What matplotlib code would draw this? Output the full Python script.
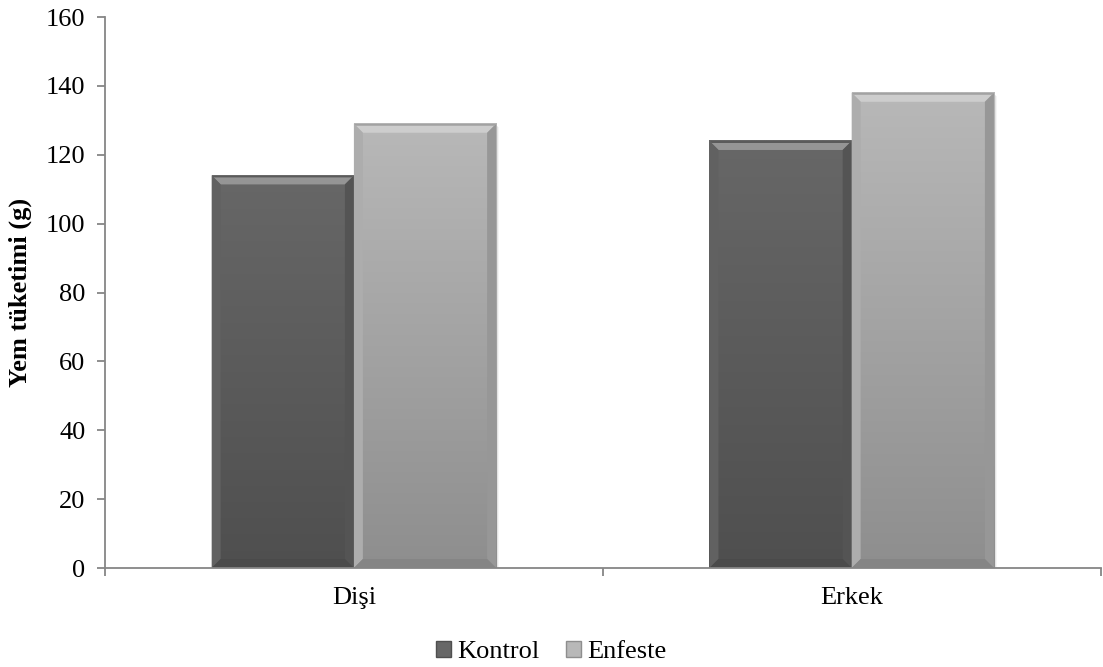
import numpy as np
import matplotlib.pyplot as plt
from matplotlib.patches import Polygon, Rectangle
from matplotlib.colors import LinearSegmentedColormap, to_rgb

# Yem tüketimi verileri
gruplar = ['Dişi', 'Erkek']
seriler = ['Kontrol', 'Enfeste']
kontrol = [114, 124]
enfeste = [129, 138]

plt.rcParams['font.family'] = ['Liberation Serif', 'DejaVu Serif']

fig = plt.figure(figsize=(11.03, 6.67), dpi=100)
ax = fig.add_axes([0.0952, 0.1484, 0.9026, 0.8261])

x = np.arange(len(gruplar))
w = 1 / 3.5  # Excel gap width 150%

renkler = {
    'Kontrol': ('#676767', '#4f4f4f'),
    'Enfeste': ('#b8b8b8', '#8e8e8e'),
}

bars_k = ax.bar(x - w / 2, kontrol, w, color=renkler['Kontrol'][0], zorder=2)
bars_e = ax.bar(x + w / 2, enfeste, w, color=renkler['Enfeste'][0], zorder=2)

ax.set_xlim(-0.5, 1.5)
ax.set_ylim(0, 160)

# piksel -> veri dönüşümü (bevel kalınlığı için)
px_x = 2.0 / (0.9026 * 1103)
px_y = 160.0 / (0.8261 * 667)


def shade(c, f):
    c = np.array(to_rgb(c))
    if f > 0:
        return tuple(c + (1 - c) * f)
    return tuple(c * (1 + f))


def bevel(bar, top, bottom):
    x0, y0 = bar.get_x(), bar.get_y()
    bw, bh = bar.get_width(), bar.get_height()
    x1, y1 = x0 + bw, y0 + bh
    # dikey gradyan gövde
    cmap = LinearSegmentedColormap.from_list('g', [bottom, top])
    grad = np.linspace(0, 1, 256).reshape(-1, 1)
    ax.imshow(grad, cmap=cmap, origin='lower', aspect='auto',
              extent=(x0, x1, y0, y1), zorder=2.1)
    bx, by = 9 * px_x, 9 * px_y
    # yumuşak gölge
    for i, a in enumerate([0.10, 0.07, 0.04]):
        ax.add_patch(Rectangle((x0 + (1 + i) * px_x, y0 - (1 + i) * px_y), bw, bh,
                               color='black', alpha=a, zorder=1.9, lw=0))
    # üst kenar
    ax.add_patch(Polygon([(x0, y1), (x1, y1), (x1 - bx, y1 - by), (x0 + bx, y1 - by)],
                         closed=True, color=shade(top, 0.30), lw=0, zorder=2.2))
    ax.add_patch(Polygon([(x0, y1), (x1, y1), (x1 - 2 * px_x, y1 - 2 * px_y), (x0 + 2 * px_x, y1 - 2 * px_y)],
                         closed=True, color=shade(top, -0.12), lw=0, zorder=2.3))
    # sol kenar
    ax.add_patch(Polygon([(x0, y0), (x0, y1), (x0 + bx, y1 - by), (x0 + bx, y0 + by)],
                         closed=True, color=shade(top, -0.06), lw=0, zorder=2.2))
    # sağ kenar
    ax.add_patch(Polygon([(x1, y0), (x1, y1), (x1 - bx, y1 - by), (x1 - bx, y0 + by)],
                         closed=True, color=shade(top, -0.18), lw=0, zorder=2.2))
    # alt kenar
    ax.add_patch(Polygon([(x0, y0), (x1, y0), (x1 - bx, y0 + by), (x0 + bx, y0 + by)],
                         closed=True, color=shade(bottom, -0.06), lw=0, zorder=2.2))


for b in bars_k:
    bevel(b, *renkler['Kontrol'])
for b in bars_e:
    bevel(b, *renkler['Enfeste'])

for s in ['top', 'right']:
    ax.spines[s].set_visible(False)
for s in ['left', 'bottom']:
    ax.spines[s].set_color('#868686')
    ax.spines[s].set_linewidth(1.3)
    ax.spines[s].set_zorder(3)

ax.set_yticks(np.arange(0, 161, 20))
ax.tick_params(axis='y', labelsize=19, color='#868686', length=6, width=1.3, pad=8)
ax.set_xticks([-0.5, 0.5, 1.5])
ax.set_xticklabels([])
ax.tick_params(axis='x', color='#868686', length=6, width=1.3)
for xi, g in zip(x, gruplar):
    ax.text(xi, -5.5, g, ha='center', va='top', fontsize=19)

ax.set_ylabel('Yem tüketimi (g)', fontsize=19, fontweight='bold', labelpad=10)

# lejant
handles = [Rectangle((0, 0), 1, 1, facecolor=renkler[s][0], edgecolor=renkler[s][1], lw=1)
           for s in seriler]
fig.legend(handles, seriler, loc='lower center', bbox_to_anchor=(0.5, -0.03), ncol=2,
           frameon=False, fontsize=19, handlelength=0.55, handleheight=0.55,
           handletextpad=0.25, columnspacing=1.0)

fig.savefig('out.png', dpi=100)
